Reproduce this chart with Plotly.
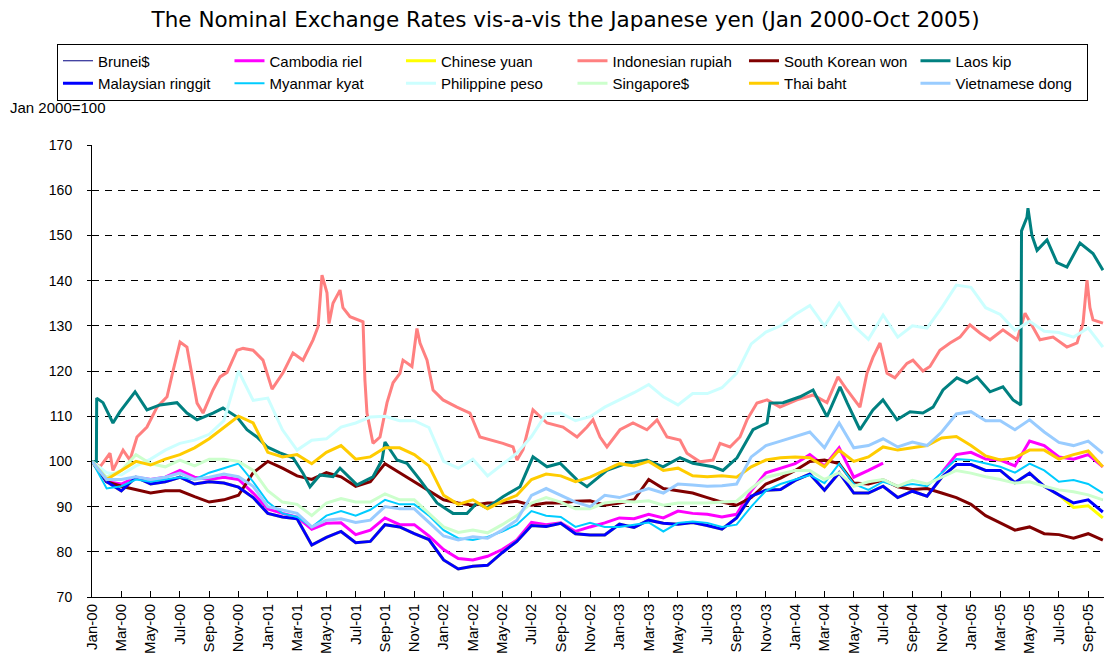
import plotly.graph_objects as go

# ---------------- data (index Jan 2000 = 100) ----------------
# x positions are months since January 2000 (0 = Jan-00)
months = list(range(70))

tick_labels = [
    "Jan-00", "Mar-00", "May-00", "Jul-00", "Sep-00", "Nov-00",
    "Jan-01", "Mar-01", "May-01", "Jul-01", "Sep-01", "Nov-01",
    "Jan-02", "Mar-02", "May-02", "Jul-02", "Sep-02", "Nov-02",
    "Jan-03", "Mar-03", "May-03", "Jul-03", "Sep-03", "Nov-03",
    "Jan-04", "Mar-04", "May-04", "Jul-04", "Sep-04", "Nov-04",
    "Jan-05", "Mar-05", "May-05", "Jul-05", "Sep-05",
]
tick_positions = [2 * i for i in range(len(tick_labels))]

brunei = [100, 96.5, 98, 101.5, 99.5, 98.8, 100.3, 99, 100.5, 100.5, 100, 98,
          93.5, 91, 90.5, 88, 90.8, 91.8, 91, 91, 92.8, 91.5, 91.5, 88.5,
          85.5, 84.3, 84.8, 84.2, 86, 88, 90.8, 92, 91, 89.5, 89.5, 90.8,
          91.2, 91, 91.3, 90.3, 90.8, 90.8, 90.8, 91, 91.2, 94, 96.5, 97.2,
          98, 98, 96, 97.5, 94.5, 95.5, 96, 94.5, 95.8, 95, 96.5, 98,
          97.4, 96.6, 96, 95.2, 95.5, 94.5, 93.7, 93.3, 92.6, 91.5]

cambodia = [100, 95.5, 95, 96.5, 96, 96.5, 98, 96.5, 96, 96.5, 96, 93,
            89.5, 88.5, 87.7, 85, 86.3, 86.4, 83.8, 84.8, 87.5, 86, 86, 83.5,
            80.5, 78.5, 78.2, 79, 80.5, 82.6, 86.5, 86, 86.4, 84.5, 85.5, 86.4,
            87.5, 87.3, 88.3, 87.5, 89, 88.5, 88.3, 87.7, 88.3, 93.5, 97.5, 98.5,
            99.5, 101.5, 99, 103, 96.5, 98, 99.6, None, None, None, 97.5, 101.5,
            102, 100.5, 100.3, 99, 104.5, 103.5, 101, 100.5, 101.5, 98.8]

china = [100, 95.5, 93.5, 96.5, 95, 95.5, 96.5, 95, 95.5, 95.2, 94.3, 92,
         88.5, 87.7, 87.3, 81.5, 83.2, 84.5, 82, 82.3, 86, 85.5, 84, 82.7,
         78.2, 76.2, 76.8, 77, 79.8, 82.3, 85.8, 85.6, 86.3, 84, 83.7, 83.7,
         86.1, 85.4, 87, 86.3, 86.1, 86.5, 85.8, 85, 87.5, 92.3, 93.6, 93.8,
         95.8, 97.2, 93.6, 97.5, 93, 93, 94.5, 92, 93.4, 92.3, 96.5, 99.3,
         99.3, 98, 98, 95.3, 97.4, 94.5, 92.6, 89.8, 90.2, 87.5]

indonesia_x = [0, 0.55, 1.23, 1.43, 2.12, 2.59, 3.07, 3.75, 4.44, 5.12, 5.53, 6.01,
               6.48, 6.89, 7.17, 7.58, 8.26, 8.74, 9.22, 9.90, 10.31, 10.99, 11.67, 12.29,
               13.04, 13.72, 14.40, 15.09, 15.43, 15.70, 16.04, 16.18, 16.45, 16.93, 17.13, 17.61,
               18.50, 18.63, 18.77, 19.18, 19.66, 20.14, 20.55, 21.02, 21.23, 21.84, 22.18, 22.39,
               22.87, 23.28, 23.96, 24.91, 25.80, 26.48, 27.37, 28.05, 28.74, 29.01, 29.42, 30.10,
               31.06, 32.15, 33.11, 33.79, 34.20, 34.68, 35.15, 36.04, 36.93, 37.88, 38.57, 39.25,
               40.14, 40.61, 41.50, 42.39, 42.87, 43.55, 44.23, 44.71, 45.39, 46.08, 46.96, 48.12,
               49.22, 50.17, 50.92, 51.54, 52.42, 52.90, 53.31, 53.79, 54.27, 54.81, 55.63, 56.04,
               56.72, 57.20, 57.88, 58.57, 59.25, 59.93, 60.61, 61.30, 62.18, 63.14, 63.69, 64.23,
               64.71, 65.60, 66.55, 67.24, 67.65, 67.92, 68.12, 68.33, 69.01]
indonesia = [100, 98.8, 101.8, 98, 102.5, 100.3, 105.4, 107.6, 112, 114.3, 120, 126.4,
             125.3, 117.4, 112.9, 110.7, 115.8, 118.7, 119.7, 124.6, 125, 124.6, 122.4, 116,
             119.6, 124, 122.4, 126.9, 129.8, 141.2, 137.3, 130.5, 135, 137.9, 134, 132,
             130.9, 118, 110.7, 104, 105.4, 113, 117.4, 119.5, 122.4, 121, 129.4, 126.2,
             122.4, 115.8, 113.6, 112, 110.7, 105.4, 104.7, 104, 103.2, 100.3, 102.6, 111.4,
             108.5, 107.6, 105.4, 107.6, 109.2, 105.4, 103.2, 107, 108.5, 107, 109.2, 105.4,
             104.7, 101.8, 99.9, 100.3, 104, 103.2, 105.4, 109.2, 112.9, 113.6, 112, 113.6,
             114.7, 113, 118.7, 115.8, 112, 119.5, 123, 126.2, 119.5, 118.5, 121.7, 122.4,
             120, 121, 124.6, 126.2, 127.5, 130.2, 128.4, 126.9, 129.1, 126.9, 132.8, 129.8,
             126.9, 127.5, 125.3, 126.2, 130.6, 140.1, 134, 131.3, 130.6]

korea = [100, 95.5, 94.5, 93.7, 93, 93.5, 93.5, 92.2, 91, 91.5, 92.5, 97.5,
         100, 98.5, 96.8, 96, 97.5, 96.6, 94.5, 95.5, 99.5, 97.5, 95.5, 93.5,
         91.5, 90.8, 90.3, 90.8, 90.8, 91.2, 90.3, 90.8, 90.8, 91.2, 91.3, 90.3,
         90.8, 91.5, 96, 94, 93.5, 93, 92, 91, 90.3, 92, 95, 96.3,
         98, 100, 100.3, 99.5, 95.2, 95, 95.9, 94.4, 93.8, 94, 93, 92,
         90.5, 88, 86.4, 84.8, 85.5, 84, 83.8, 83, 84, 82.6]

laos_x = [0, 0.30, 0.32, 0.75, 1.43, 1.91, 2.94, 3.75, 4.64, 5.80, 6.48, 7.17,
          8.26, 8.94, 9.90, 10.58, 11.26, 11.95, 12.83, 13.72, 14.40, 14.88, 15.56, 16.45,
          16.93, 18.09, 19.18, 19.80, 20.00, 20.82, 21.50, 22.39, 23.55, 24.64, 25.60, 26.28,
          26.96, 28.05, 29.22, 30.10, 31.06, 31.95, 33.11, 33.79, 35.15, 36.52, 37.88, 38.98,
          40.14, 41.02, 42.39, 43.07, 44.03, 44.44, 45.12, 46.08, 46.28, 47.17, 48.33, 49.22,
          49.69, 50.17, 51.06, 51.54, 52.42, 53.31, 53.99, 54.95, 55.84, 56.72, 57.41, 58.09,
          59.04, 59.73, 60.41, 61.30, 62.18, 62.87, 63.40, 63.45, 63.82, 63.89, 64.16, 64.51,
          65.19, 65.87, 66.55, 67.44, 68.33, 69.01]
laos = [100, 100, 114, 113, 108.5, 111, 115.4, 111.4, 112.5, 113, 110.7, 109.2,
        110.7, 111.8, 109.8, 107, 105.4, 103.2, 101.9, 100.8, 97.4, 94.4, 97, 96.6,
        98.5, 94.8, 96.6, 100.3, 104.3, 100.3, 99.6, 95.9, 90.8, 88.5, 88.5, 90.8,
        89.7, 92.2, 94.4, 101, 98.8, 99.6, 95.9, 94.4, 98, 99.6, 100.3, 98.8,
        100.8, 99.6, 98.8, 98, 100.8, 103.2, 107, 108.5, 112.9, 113, 114.3, 115.8,
        113, 109.9, 116.5, 113, 107, 111.4, 113.6, 109.2, 111, 110.7, 112, 115.8,
        118.5, 117.4, 118.7, 115.4, 116.5, 113.6, 112.5, 151, 154, 156, 150, 146.7,
        149, 144, 143, 148.3, 146, 142.3]

malaysia = [100, 95.5, 93.5, 96.5, 95, 95.5, 96.5, 95, 95.5, 95.2, 94.3, 92,
            88.5, 87.7, 87.3, 81.5, 83.2, 84.5, 82, 82.3, 86, 85.5, 84, 82.7,
            78.2, 76.2, 76.8, 77, 79.8, 82.3, 85.8, 85.6, 86.3, 84, 83.7, 83.7,
            86.1, 85.4, 87, 86.3, 86.1, 86.5, 85.8, 85, 87.5, 92.3, 93.6, 93.8,
            95.8, 97.2, 93.6, 97.5, 93, 93, 94.5, 92, 93.4, 92.3, 96.5, 99.3,
            99.3, 98, 98, 95.3, 97.4, 94.5, 92.6, 90.8, 91.5, 88.8]

myanmar = [100, 94, 94.5, 96, 95.5, 96, 96.5, 96, 97.5, 98.5, 99.5, 95.5,
           91, 88.5, 87.7, 85.5, 88, 89, 88, 89.3, 91.5, 90.5, 90.5, 88,
           84.8, 83, 82.6, 83.3, 84.5, 86, 89, 88, 87.7, 85.5, 86.4, 85.5,
           85.5, 86, 86.5, 84.5, 86.4, 86.7, 86.4, 85.5, 86, 90, 93.5, 95,
           96, 97, 95.2, 99.5, 95, 93.7, 95.5, 94.5, 95, 94.5, 97.5, 100.5,
           100.3, 99.6, 98.8, 97.5, 99.5, 98, 95.5, 95.9, 95, 93]

philippines = [100, 97.5, 97, 99, 100.5, 102.5, 104, 104.7, 106, 109, 120, 113.5,
               114, 107, 102.5, 104.7, 105, 107.6, 108.5, 109.8, 110, 109, 109, 107.5,
               100, 98.5, 100.5, 96.8, 99.3, 101.8, 105.5, 110.5, 110.7, 109, 109.9, 112,
               113.6, 115.2, 117, 114.3, 112.5, 115, 115, 116.3, 119.5, 126, 128.6, 130,
               132.5, 134.5, 130, 135, 130, 127, 132.4, 127.5, 130, 129.5, 134, 139,
               138.5, 134, 132.5, 129, 131, 128.8, 128.5, 127.5, 129.5, 125.3]

singapore = [100, 96.5, 98, 101.5, 99.5, 98.8, 100.3, 99, 100.5, 100.5, 100, 98,
             93.5, 91, 90.5, 88, 90.8, 91.8, 91, 91, 92.8, 91.5, 91.5, 88.5,
             85.5, 84.3, 84.8, 84.2, 86, 88, 90.8, 92, 91, 89.5, 89.5, 90.8,
             91.2, 91, 91.3, 90.3, 90.8, 90.8, 90.8, 91, 91.2, 94, 96.5, 97.2,
             98, 98, 96, 97.5, 94.5, 95.5, 96, 94.5, 95.8, 95, 96.5, 98,
             97.4, 96.6, 96, 95.2, 95.5, 94.5, 93.7, 93.3, 92.6, 91.5]

thailand = [100, 96, 98, 100, 99.2, 100.5, 101.5, 103, 105, 107.5, 110, 108.5,
            102, 101, 101.5, 99.5, 102, 103.5, 100.5, 101, 103, 103, 101.5, 99,
            92.5, 90.5, 91.5, 89.5, 91.2, 92.5, 96, 97.2, 96.8, 95.5, 96.5, 98,
            99.5, 99, 100, 98, 98.5, 96.8, 96.6, 96.8, 96.5, 98.8, 100.3, 100.8,
            101, 100.8, 98.8, 102.5, 100, 101, 103.2, 102.5, 103, 103.5, 105.2, 105.5,
            103.5, 101.2, 100.3, 100.8, 102.5, 102.5, 100.5, 101.5, 102.3, 98.8]

vietnam = [100, 96, 96, 96.6, 96, 96.5, 97.4, 96, 96.5, 97.2, 96.6, 94.5,
           90, 89.3, 88.5, 85.5, 87, 87.3, 86.5, 87, 90, 89.5, 89.5, 86.5,
           83.5, 82.6, 83.3, 83, 84.8, 87, 92.5, 94, 92.5, 91, 90, 92.5,
           92, 93, 94, 93, 95, 94.8, 94.5, 94.6, 95, 101, 103.5, 104.5,
           105.5, 106.5, 103, 108.5, 103, 103.5, 105, 103.2, 104.3, 103.5, 106.5, 110.5,
           111, 109, 109, 107, 109.2, 106.5, 104.2, 103.5, 104.5, 101.8]

series = [
    ("Brunei$", months, brunei, "#000080", 1),
    ("Cambodia riel", months, cambodia, "#FF00FF", 3),
    ("Chinese yuan", months, china, "#FFFF00", 3),
    ("Indonesian rupiah", indonesia_x, indonesia, "#FF8080", 3),
    ("South Korean won", months, korea, "#800000", 3),
    ("Laos kip", laos_x, laos, "#008080", 3),
    ("Malaysian ringgit", months, malaysia, "#0000FF", 3),
    ("Myanmar kyat", months, myanmar, "#00CCFF", 2),
    ("Philippine peso", months, philippines, "#CCFFFF", 3),
    ("Singapore$", months, singapore, "#CCFFCC", 3),
    ("Thai baht", months, thailand, "#FFCC00", 3),
    ("Vietnamese dong", months, vietnam, "#99CCFF", 3),
]

for name, xs, ys, _, _ in series:
    if len(xs) != len(ys):
        raise ValueError(f"{name}: {len(xs)} x vs {len(ys)} y")

fig = go.Figure()
for name, xs, ys, color, width in series:
    fig.add_trace(go.Scatter(
        x=xs, y=ys, name=name, mode="lines",
        line=dict(color=color, width=width),
        connectgaps=False,
    ))

FONT = "Liberation Sans, Arial, sans-serif"

fig.update_layout(
    width=1104, height=665,
    margin=dict(l=92, r=0, t=145, b=68),
    paper_bgcolor="white", plot_bgcolor="white",
    font=dict(family=FONT, size=14, color="black"),
    title=dict(
        text="The Nominal Exchange Rates vis-a-vis the Japanese yen (Jan 2000-Oct 2005)",
        x=0.468, xref="paper", xanchor="center",
        y=1 - 19 / 665, yref="container", yanchor="middle",
        font=dict(family="DejaVu Sans, sans-serif", size=21.5, color="black"),
    ),
    legend=dict(
        orientation="h",
        x=-0.0346, xanchor="left", y=1.2245, yanchor="top",
        bordercolor="black", borderwidth=1, bgcolor="white",
        font=dict(family=FONT, size=15, color="black"),
        entrywidth=126.5, entrywidthmode="pixels",
        itemwidth=30, tracegroupgap=0, traceorder="normal",
    ),
    showlegend=True,
    annotations=[dict(
        text="Jan 2000=100", xref="paper", yref="paper",
        x=-0.083, xanchor="left", y=1.0819, yanchor="middle",
        showarrow=False, font=dict(family=FONT, size=15, color="black"),
    )],
)

fig.update_xaxes(
    range=[0, 69.08],
    tickmode="array", tickvals=tick_positions, ticktext=tick_labels,
    tickangle=-90, ticks="inside", ticklen=6, tickcolor="black",
    showline=True, linecolor="black", linewidth=1,
    showgrid=False, zeroline=False,
    tickfont=dict(family=FONT, size=15, color="black"),
)
fig.update_yaxes(
    range=[70, 170], dtick=10, tick0=70,
    ticks="outside", ticklen=4, tickcolor="black",
    ticklabelstandoff=12,
    showline=True, linecolor="black", linewidth=1,
    showgrid=True, gridcolor="black", gridwidth=1, griddash="7px,6px",
    zeroline=False,
    tickfont=dict(family=FONT, size=14, color="black"),
)

fig.write_html("out.html", config={"displayModeBar": False},
               post_script="document.body.style.margin='0';")
